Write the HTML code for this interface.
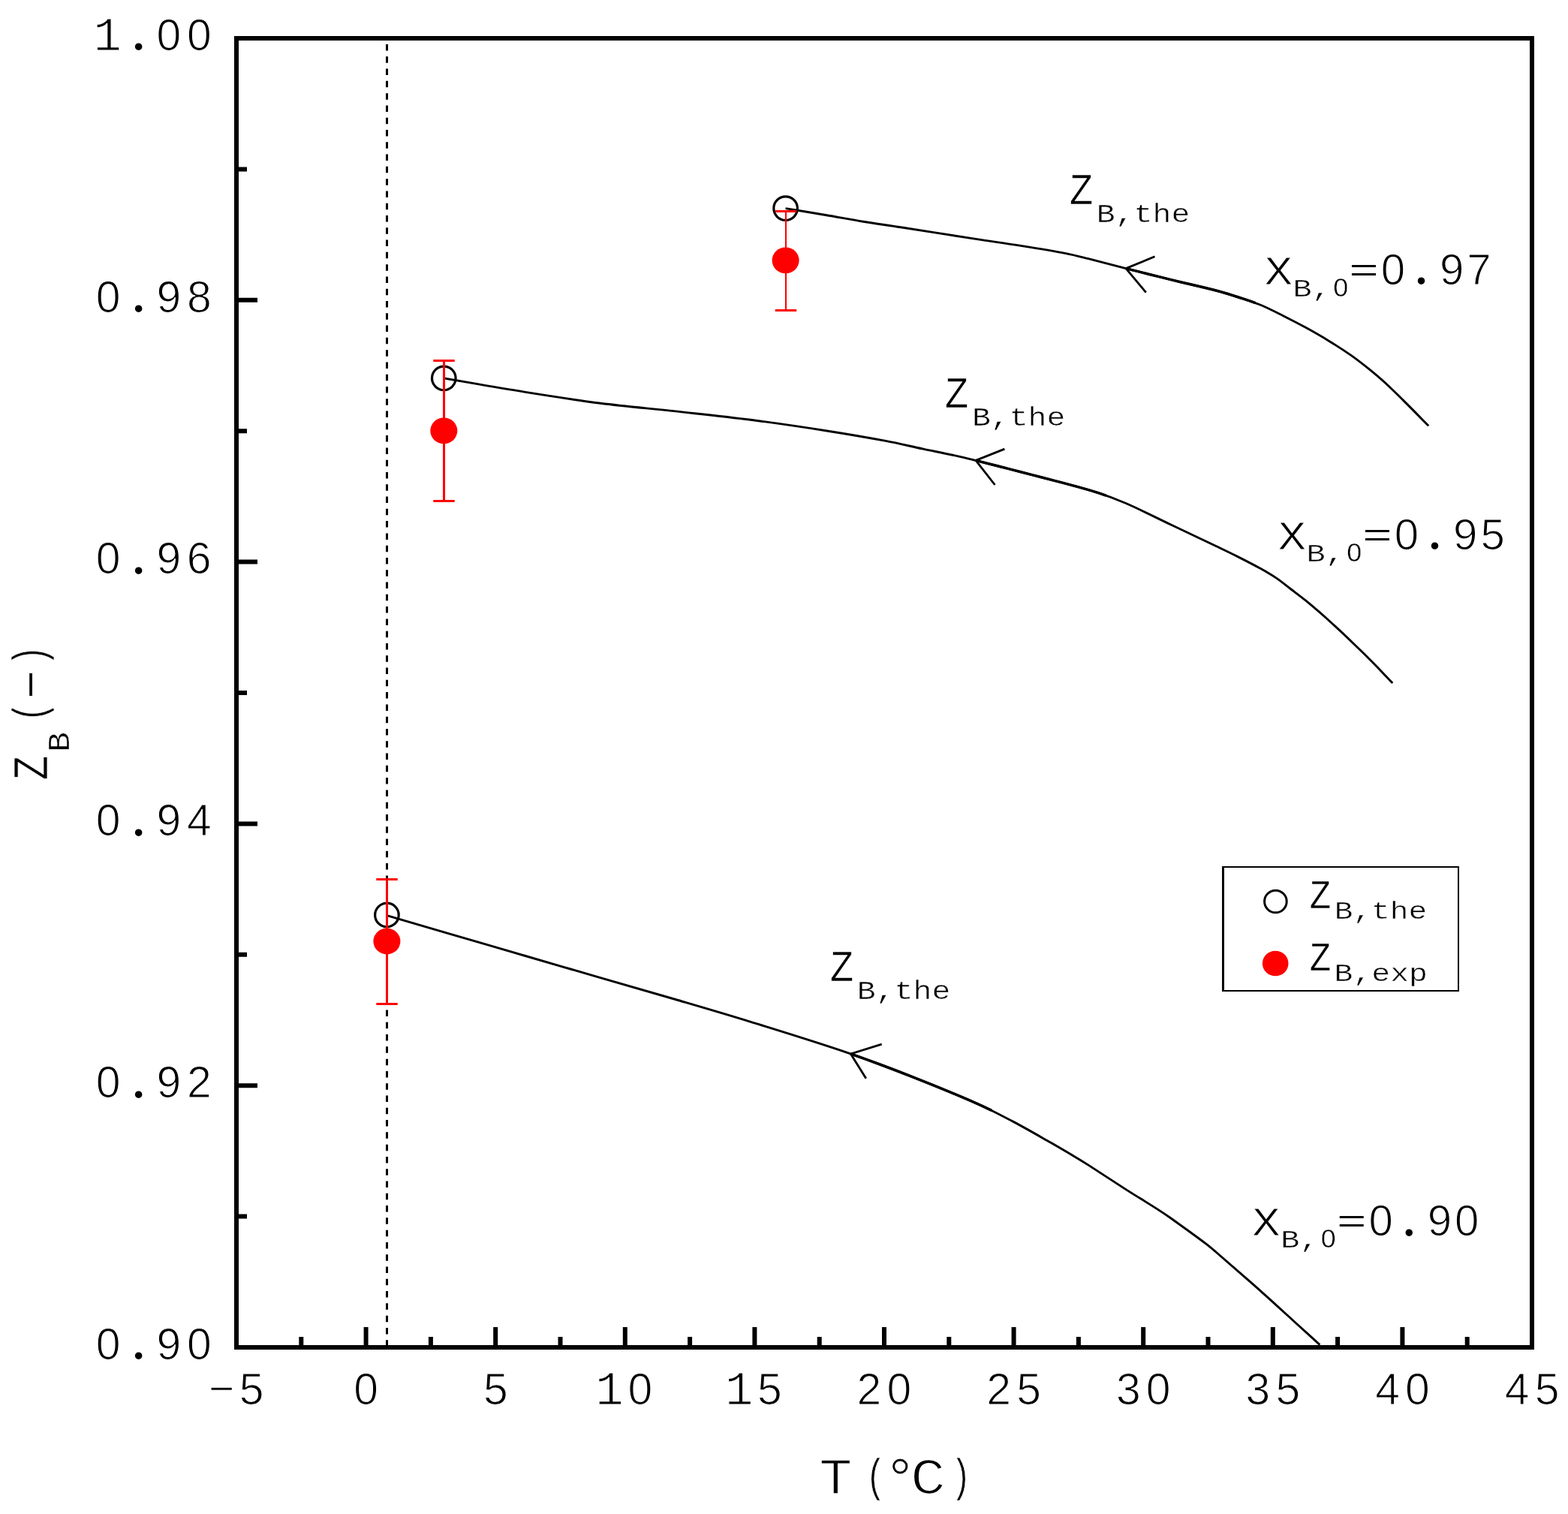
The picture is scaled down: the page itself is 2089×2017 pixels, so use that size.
<!DOCTYPE html>
<html lang="en"><head><meta charset="utf-8"><title>Z_B versus T</title>
<style>
html,body{margin:0;padding:0;background:#fff;}
body{width:2089px;height:2017px;overflow:hidden;}
svg{display:block;}
</style></head><body>
<svg width="2089" height="2017" viewBox="0 0 2089 2017" role="img" aria-label="Z_B versus T chart">
<rect x="0" y="0" width="2089" height="2017" fill="#fff"/>
<line x1="515.5" y1="59" x2="515.5" y2="1792.0" stroke="#000" stroke-width="3" stroke-dasharray="8.5 7.785"/>
<path fill="none" stroke="#000" stroke-width="2.9" d="M1046.6 277.6 C1064.4 280.6 1082.2 283.5 1100.0 286.5 C1116.7 289.3 1133.3 292.5 1150.0 295.2 C1166.6 297.9 1183.3 300.1 1200.0 302.7 C1233.3 307.9 1266.7 313.3 1300.0 318.4 C1320.0 321.5 1340.0 324.2 1360.0 327.4 C1380.0 330.6 1400.1 333.8 1420.0 337.6 C1430.1 339.5 1440.0 342.2 1450.0 344.7 C1466.7 348.9 1483.3 353.4 1500.0 357.6 C1520.0 362.7 1540.0 367.7 1560.0 372.6 C1580.0 377.5 1600.1 381.8 1620.0 387.0 C1630.1 389.6 1640.1 392.8 1650.0 396.0 C1660.1 399.3 1670.2 402.4 1680.0 406.5 C1690.3 410.8 1700.1 416.0 1710.0 421.0 C1720.1 426.1 1730.1 431.2 1740.0 436.6 C1750.1 442.2 1760.2 447.9 1770.0 453.9 C1780.2 460.1 1790.2 466.6 1800.0 473.4 C1808.0 479.0 1815.7 485.1 1823.3 491.2 C1831.2 497.6 1839.0 504.1 1846.5 511.0 C1854.5 518.3 1862.1 526.0 1869.8 533.6 C1877.6 541.3 1885.3 549.1 1893.0 556.9 C1896.4 560.3 1899.8 563.8 1903.2 567.3"/>
<path fill="none" stroke="#000" stroke-width="2.9" d="M591.3 503.9 C627.5 510.1 663.7 516.6 700.0 522.4 C733.3 527.7 766.6 532.9 800.0 537.2 C833.3 541.4 866.7 544.2 900.0 547.9 C933.3 551.6 966.7 555.0 1000.0 559.3 C1033.4 563.6 1066.7 568.5 1100.0 573.7 C1126.7 577.9 1153.4 582.4 1180.0 587.4 C1196.8 590.5 1213.3 594.6 1230.0 598.1 C1246.7 601.6 1263.4 604.8 1280.0 608.6 C1300.1 613.3 1320.0 618.5 1340.0 623.6 C1360.0 628.7 1380.0 633.8 1400.0 639.1 C1420.0 644.4 1440.2 649.4 1460.0 655.6 C1473.6 659.9 1486.9 664.8 1500.0 670.5 C1520.3 679.3 1540.0 689.5 1560.0 699.0 C1580.0 708.5 1600.0 717.9 1620.0 727.5 C1630.0 732.3 1640.1 737.1 1650.0 742.1 C1660.1 747.2 1670.1 752.3 1680.0 757.8 C1687.1 761.7 1694.1 765.8 1700.8 770.4 C1707.4 774.9 1713.6 780.1 1720.0 785.0 C1726.7 790.1 1733.5 795.1 1740.0 800.4 C1749.3 808.1 1758.5 815.9 1767.5 824.0 C1779.7 835.0 1791.7 846.3 1803.6 857.7 C1812.3 866.0 1820.9 874.4 1829.3 882.9 C1838.1 891.8 1846.6 901.0 1855.3 910.0"/>
<path fill="none" stroke="#000" stroke-width="2.9" d="M515.4 1219.6 C543.6 1227.9 571.8 1236.2 600.0 1244.4 C633.3 1254.1 666.7 1263.8 700.0 1273.5 C733.3 1283.2 766.7 1292.9 800.0 1302.6 C833.3 1312.3 866.7 1321.7 900.0 1331.5 C933.4 1341.3 966.8 1351.0 1000.0 1361.3 C1040.1 1373.7 1080.2 1386.0 1120.0 1399.4 C1146.9 1408.5 1173.5 1418.3 1200.0 1428.6 C1233.6 1441.7 1267.0 1455.0 1300.0 1469.5 C1317.1 1477.0 1333.5 1485.7 1350.0 1494.4 C1366.9 1503.3 1383.4 1512.9 1400.0 1522.3 C1410.4 1528.2 1420.7 1534.3 1431.0 1540.4 C1437.4 1544.2 1443.7 1548.1 1450.0 1552.1 C1466.7 1562.8 1483.3 1573.9 1500.0 1584.6 C1514.0 1593.6 1528.3 1602.1 1542.3 1611.1 C1548.3 1614.9 1554.2 1618.9 1560.0 1623.0 C1575.9 1634.4 1591.8 1645.8 1607.5 1657.6 C1611.8 1660.9 1615.9 1664.5 1620.0 1668.0 C1635.9 1681.7 1651.8 1695.4 1667.6 1709.3 C1678.3 1718.7 1688.8 1728.3 1699.3 1737.8 C1709.9 1747.4 1720.4 1757.1 1731.0 1766.7 C1740.1 1775.0 1749.3 1783.3 1758.4 1791.6"/>
<polyline fill="none" stroke="#000" stroke-width="2.8" stroke-linejoin="miter" points="1538.5,341.8 1500.0,357.6 1526.8,389.7"/>
<polyline fill="none" stroke="#000" stroke-width="3.5" points="1500.0,357.6 1515.0,361.4 1530.0,365.2 1545.0,368.9 1560.0,372.6 1575.0,376.2 1590.0,379.7 1605.0,383.3 1620.0,387.0 1627.6,389.1 1635.1,391.3 1642.5,393.6 1650.0,396.0 1657.6,398.4 1665.1,400.9 1672.6,403.6"/>
<polyline fill="none" stroke="#000" stroke-width="2.8" stroke-linejoin="miter" points="1338.4,598.1 1300.0,613.4 1325.5,646.0"/>
<polyline fill="none" stroke="#000" stroke-width="3.5" points="1300.0,613.4 1315.0,617.2 1330.0,621.0 1345.0,624.9 1360.0,628.7 1375.0,632.6 1390.0,636.5 1405.0,640.4 1420.1,644.4 1435.1,648.4 1450.1,652.6 1463.4,656.7 1473.5,660.1"/>
<polyline fill="none" stroke="#000" stroke-width="2.8" stroke-linejoin="miter" points="1174.7,1391.1 1133.4,1404.0 1153.8,1436.7"/>
<polyline fill="none" stroke="#000" stroke-width="3.5" points="1133.4,1404.0 1153.5,1411.1 1173.5,1418.5 1193.4,1426.0 1216.8,1435.2 1241.9,1445.1 1266.9,1455.4 1291.7,1465.9 1308.5,1473.3 1321.1,1479.4"/>
<circle cx="1046.6" cy="277.6" r="15.8" fill="none" stroke="#000" stroke-width="3.2"/>
<path d="M1047.0 281.5 V413.4" stroke="#f00" stroke-width="2.0" fill="none"/>
<path d="M1032.8 281.5 H1061.2 M1032.8 413.4 H1061.2" stroke="#f00" stroke-width="3" fill="none"/>
<ellipse cx="1046.6" cy="346.9" rx="18" ry="17.4" fill="#f00"/>
<circle cx="591.3" cy="503.9" r="15.8" fill="none" stroke="#000" stroke-width="3.2"/>
<path d="M591.5 480.5 V667.5" stroke="#f00" stroke-width="3.0" fill="none"/>
<path d="M577.3 480.5 H605.7 M577.3 667.5 H605.7" stroke="#f00" stroke-width="3" fill="none"/>
<ellipse cx="591.3" cy="573.9" rx="18" ry="17.4" fill="#f00"/>
<circle cx="515.4" cy="1219.0" r="15.8" fill="none" stroke="#000" stroke-width="3.2"/>
<path d="M515.5 1171.5 V1337.5" stroke="#f00" stroke-width="3.0" fill="none"/>
<path d="M501.3 1171.5 H529.7 M501.3 1337.5 H529.7" stroke="#f00" stroke-width="3" fill="none"/>
<ellipse cx="515.4" cy="1254.0" rx="18" ry="17.4" fill="#f00"/>
<rect x="315.0" y="51.0" width="1726.0" height="1744.0" fill="none" stroke="#000" stroke-width="6"/>
<path d="M401.3 1795.0 v-14.0 M487.6 1795.0 v-27.0 M573.9 1795.0 v-14.0 M660.2 1795.0 v-27.0 M746.5 1795.0 v-14.0 M832.8 1795.0 v-27.0 M919.1 1795.0 v-14.0 M1005.4 1795.0 v-27.0 M1091.7 1795.0 v-14.0 M1178.0 1795.0 v-27.0 M1264.3 1795.0 v-14.0 M1350.6 1795.0 v-27.0 M1436.9 1795.0 v-14.0 M1523.2 1795.0 v-27.0 M1609.5 1795.0 v-14.0 M1695.8 1795.0 v-27.0 M1782.1 1795.0 v-14.0 M1868.4 1795.0 v-27.0 M1954.7 1795.0 v-14.0 M315.0 1620.6 h14.0 M315.0 1446.2 h28.0 M315.0 1271.8 h14.0 M315.0 1097.4 h28.0 M315.0 923.0 h14.0 M315.0 748.6 h28.0 M315.0 574.2 h14.0 M315.0 399.8 h28.0 M315.0 225.4 h14.0" stroke="#000" stroke-width="6" fill="none"/>
<g fill="#000" stroke="#fff" stroke-width="1.20" font-family="'Liberation Mono',monospace">
<text><tspan font-size="58.9" x="127.7" y="1810.8" font-family="'Liberation Sans',sans-serif">0</tspan><tspan font-size="81.0" x="174.4" y="1810.3" font-family="'Liberation Serif',serif" stroke-width="0.00">.</tspan><tspan font-size="58.9" x="208.5 248.9" y="1810.8" font-family="'Liberation Sans',sans-serif">90</tspan></text>
<text><tspan font-size="58.9" x="127.7" y="1462.0" font-family="'Liberation Sans',sans-serif">0</tspan><tspan font-size="81.0" x="174.4" y="1461.5" font-family="'Liberation Serif',serif" stroke-width="0.00">.</tspan><tspan font-size="58.9" x="208.5 248.9" y="1462.0" font-family="'Liberation Sans',sans-serif">92</tspan></text>
<text><tspan font-size="58.9" x="127.7" y="1113.2" font-family="'Liberation Sans',sans-serif">0</tspan><tspan font-size="81.0" x="174.4" y="1112.7" font-family="'Liberation Serif',serif" stroke-width="0.00">.</tspan><tspan font-size="58.9" x="208.5 249.1" y="1113.2" font-family="'Liberation Sans',sans-serif">94</tspan></text>
<text><tspan font-size="58.9" x="127.7" y="764.4" font-family="'Liberation Sans',sans-serif">0</tspan><tspan font-size="81.0" x="174.4" y="763.9" font-family="'Liberation Serif',serif" stroke-width="0.00">.</tspan><tspan font-size="58.9" x="208.5 248.7" y="764.4" font-family="'Liberation Sans',sans-serif">96</tspan></text>
<text><tspan font-size="58.9" x="127.7" y="415.6" font-family="'Liberation Sans',sans-serif">0</tspan><tspan font-size="81.0" x="174.4" y="415.1" font-family="'Liberation Serif',serif" stroke-width="0.00">.</tspan><tspan font-size="58.9" x="208.5 248.9" y="415.6" font-family="'Liberation Sans',sans-serif">98</tspan></text>
<text><tspan font-size="62.4" x="124.6" y="67.1">1</tspan><tspan font-size="81.0" x="174.4" y="66.3" font-family="'Liberation Serif',serif" stroke-width="0.00">.</tspan><tspan font-size="58.9" x="208.5 248.9" y="66.8" font-family="'Liberation Sans',sans-serif">00</tspan></text>
<text><tspan font-size="58.7" x="277.4" y="1870.4">−</tspan><tspan font-size="58.9" x="318.7" y="1870.7" font-family="'Liberation Sans',sans-serif">5</tspan></text>
<text><tspan font-size="58.9" x="471.2" y="1870.7" font-family="'Liberation Sans',sans-serif">0</tspan></text>
<text><tspan font-size="58.9" x="643.9" y="1870.7" font-family="'Liberation Sans',sans-serif">5</tspan></text>
<text><tspan font-size="62.4" x="793.3" y="1871.0">1</tspan><tspan font-size="58.9" x="836.4" y="1870.7" font-family="'Liberation Sans',sans-serif">0</tspan></text>
<text><tspan font-size="62.4" x="965.9" y="1871.0">1</tspan><tspan font-size="58.9" x="1009.1" y="1870.7" font-family="'Liberation Sans',sans-serif">5</tspan></text>
<text><tspan font-size="58.9" x="1141.6 1181.6" y="1870.7" font-family="'Liberation Sans',sans-serif">20</tspan></text>
<text><tspan font-size="58.9" x="1314.2 1354.3" y="1870.7" font-family="'Liberation Sans',sans-serif">25</tspan></text>
<text><tspan font-size="58.9" x="1487.0 1526.8" y="1870.7" font-family="'Liberation Sans',sans-serif">30</tspan></text>
<text><tspan font-size="58.9" x="1659.6 1699.5" y="1870.7" font-family="'Liberation Sans',sans-serif">35</tspan></text>
<text><tspan font-size="58.9" x="1832.2 1872.0" y="1870.7" font-family="'Liberation Sans',sans-serif">40</tspan></text>
<text><tspan font-size="58.9" x="2004.8 2044.7" y="1870.7" font-family="'Liberation Sans',sans-serif">45</tspan></text>
<text><tspan font-size="68.8" x="1091.3" y="1989.5" stroke-width="1.49" textLength="44.20" lengthAdjust="spacingAndGlyphs">T</tspan><tspan font-size="62.0" x="1153.4" y="1986.2" stroke-width="0.70" textLength="26.19" lengthAdjust="spacingAndGlyphs">(</tspan><tspan font-size="76.0" x="1176.6" y="1993.6" stroke-width="1.00">°</tspan><tspan font-size="68.8" x="1212.7" y="1989.5" stroke-width="1.70" textLength="47.42" lengthAdjust="spacingAndGlyphs">C</tspan><tspan font-size="62.0" x="1267.2" y="1986.2" stroke-width="0.70" textLength="26.19" lengthAdjust="spacingAndGlyphs">)</tspan></text>
<text transform="rotate(-90)"><tspan font-size="66.6" x="-1039.2" y="62.5" stroke-width="0.74" textLength="32.53" lengthAdjust="spacingAndGlyphs">Z</tspan><tspan font-size="40.0" x="-1001.7" y="92.3" stroke-width="0.45" textLength="26.63" lengthAdjust="spacingAndGlyphs">B</tspan><tspan font-size="60.2" x="-961.9" y="59.1" stroke-width="0.70" textLength="26.86" lengthAdjust="spacingAndGlyphs">(</tspan><tspan font-size="63.0" x="-930.8" y="61.7" stroke-width="0.80">−</tspan><tspan font-size="60.2" x="-886.8" y="59.1" stroke-width="0.70" textLength="26.86" lengthAdjust="spacingAndGlyphs">)</tspan></text>
<text><tspan font-size="59.0" x="1424.7" y="271.5" stroke-width="0.68" textLength="31.67" lengthAdjust="spacingAndGlyphs">Z</tspan><tspan font-size="35.0" x="1460.8" y="296.2" stroke-width="0.45" textLength="124.52" lengthAdjust="spacingAndGlyphs">B,the</tspan></text>
<text><tspan font-size="59.0" x="1258.8" y="542.5" stroke-width="0.68" textLength="31.67" lengthAdjust="spacingAndGlyphs">Z</tspan><tspan font-size="35.0" x="1294.9" y="567.2" stroke-width="0.45" textLength="124.52" lengthAdjust="spacingAndGlyphs">B,the</tspan></text>
<text><tspan font-size="59.0" x="1105.7" y="1306.5" stroke-width="0.68" textLength="31.67" lengthAdjust="spacingAndGlyphs">Z</tspan><tspan font-size="35.0" x="1141.8" y="1331.2" stroke-width="0.45" textLength="124.52" lengthAdjust="spacingAndGlyphs">B,the</tspan></text>
<text><tspan font-size="54.2" x="1684.5" y="378.6" stroke-width="0.97" textLength="37.85" lengthAdjust="spacingAndGlyphs">X</tspan><tspan font-size="34.0" x="1722.6" y="394.9" stroke-width="0.45" textLength="50.41" lengthAdjust="spacingAndGlyphs">B,</tspan><tspan font-size="35.9" x="1776.2" y="394.8" font-family="'Liberation Sans',sans-serif" stroke-width="0.45">0</tspan><tspan font-size="41.9" x="1797.3" y="373.5" stroke-width="0.00" textLength="39.53" lengthAdjust="spacingAndGlyphs">=</tspan><tspan font-size="58.2" x="1839.8" y="378.8" font-family="'Liberation Sans',sans-serif">0</tspan><tspan font-size="80.0" x="1883.6" y="378.3" font-family="'Liberation Serif',serif" stroke-width="0.00">.</tspan><tspan font-size="58.2" x="1918.1 1954.3" y="378.8" font-family="'Liberation Sans',sans-serif">97</tspan></text>
<text><tspan font-size="54.2" x="1702.5" y="731.6" stroke-width="0.97" textLength="37.85" lengthAdjust="spacingAndGlyphs">X</tspan><tspan font-size="34.0" x="1740.6" y="747.9" stroke-width="0.45" textLength="50.41" lengthAdjust="spacingAndGlyphs">B,</tspan><tspan font-size="35.9" x="1794.2" y="747.8" font-family="'Liberation Sans',sans-serif" stroke-width="0.45">0</tspan><tspan font-size="41.9" x="1815.3" y="726.5" stroke-width="0.00" textLength="39.53" lengthAdjust="spacingAndGlyphs">=</tspan><tspan font-size="58.2" x="1857.8" y="731.8" font-family="'Liberation Sans',sans-serif">0</tspan><tspan font-size="80.0" x="1901.6" y="731.3" font-family="'Liberation Serif',serif" stroke-width="0.00">.</tspan><tspan font-size="58.2" x="1936.1 1972.4" y="731.8" font-family="'Liberation Sans',sans-serif">95</tspan></text>
<text><tspan font-size="54.2" x="1668.1" y="1646.0" stroke-width="0.97" textLength="37.85" lengthAdjust="spacingAndGlyphs">X</tspan><tspan font-size="34.0" x="1706.2" y="1662.3" stroke-width="0.45" textLength="50.41" lengthAdjust="spacingAndGlyphs">B,</tspan><tspan font-size="35.9" x="1759.8" y="1662.2" font-family="'Liberation Sans',sans-serif" stroke-width="0.45">0</tspan><tspan font-size="41.9" x="1780.9" y="1640.9" stroke-width="0.00" textLength="39.53" lengthAdjust="spacingAndGlyphs">=</tspan><tspan font-size="58.2" x="1823.4" y="1646.2" font-family="'Liberation Sans',sans-serif">0</tspan><tspan font-size="80.0" x="1867.2" y="1645.7" font-family="'Liberation Serif',serif" stroke-width="0.00">.</tspan><tspan font-size="58.2" x="1901.7 1937.9" y="1646.2" font-family="'Liberation Sans',sans-serif">90</tspan></text>
<text><tspan font-size="52.8" x="1744.4" y="1210.2" stroke-width="0.51" textLength="28.97" lengthAdjust="spacingAndGlyphs">Z</tspan><tspan font-size="33.5" x="1777.7" y="1224.4" stroke-width="0.45" textLength="123.52" lengthAdjust="spacingAndGlyphs">B,the</tspan></text>
<text><tspan font-size="52.8" x="1744.4" y="1293.2" stroke-width="0.51" textLength="28.97" lengthAdjust="spacingAndGlyphs">Z</tspan><tspan font-size="33.5" x="1777.5" y="1306.8" stroke-width="0.45" textLength="124.52" lengthAdjust="spacingAndGlyphs">B,exp</tspan></text>
</g>
<path d="M1629.5 1154 V1321" fill="none" stroke="#000" stroke-width="3"/>
<path d="M1628 1155 H1944 M1943 1154 V1321 M1628 1320 H1944" fill="none" stroke="#000" stroke-width="2"/>
<circle cx="1699.4" cy="1201" r="14.8" fill="none" stroke="#000" stroke-width="3"/>
<ellipse cx="1699.2" cy="1283.5" rx="17.3" ry="16.8" fill="#f00"/>
</svg>
</body></html>
